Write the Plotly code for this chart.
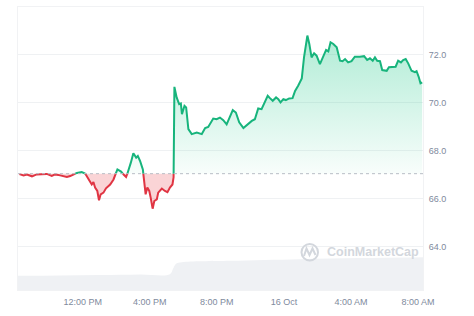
import numpy as np
import pandas as pd
import plotly.graph_objects as go

# ---- data ----
times = [
    "2023-10-15 08:13", "2023-10-15 08:28", "2023-10-15 08:40", "2023-10-15 08:58", "2023-10-15 09:15",
    "2023-10-15 09:33", "2023-10-15 09:51", "2023-10-15 10:09", "2023-10-15 10:21", "2023-10-15 10:39",
    "2023-10-15 11:03", "2023-10-15 11:15", "2023-10-15 11:39", "2023-10-15 11:56", "2023-10-15 12:08",
    "2023-10-15 12:20", "2023-10-15 12:32", "2023-10-15 12:38", "2023-10-15 12:44", "2023-10-15 12:52",
    "2023-10-15 12:58", "2023-10-15 13:04", "2023-10-15 13:14", "2023-10-15 13:23", "2023-10-15 13:38",
    "2023-10-15 13:50", "2023-10-15 14:04", "2023-10-15 14:17", "2023-10-15 14:28", "2023-10-15 14:35",
    "2023-10-15 14:43", "2023-10-15 14:52", "2023-10-15 15:01", "2023-10-15 15:11", "2023-10-15 15:17",
    "2023-10-15 15:25", "2023-10-15 15:35", "2023-10-15 15:40", "2023-10-15 15:45", "2023-10-15 15:51",
    "2023-10-15 15:58", "2023-10-15 16:03", "2023-10-15 16:10", "2023-10-15 16:16", "2023-10-15 16:25",
    "2023-10-15 16:30", "2023-10-15 16:43", "2023-10-15 16:54", "2023-10-15 17:03", "2023-10-15 17:12",
    "2023-10-15 17:21", "2023-10-15 17:25", "2023-10-15 17:28", "2023-10-15 17:36", "2023-10-15 17:45",
    "2023-10-15 17:51", "2023-10-15 17:55", "2023-10-15 18:04", "2023-10-15 18:10", "2023-10-15 18:18",
    "2023-10-15 18:30", "2023-10-15 18:48", "2023-10-15 19:06", "2023-10-15 19:18", "2023-10-15 19:29",
    "2023-10-15 19:47", "2023-10-15 19:59", "2023-10-15 20:11", "2023-10-15 20:23", "2023-10-15 20:35",
    "2023-10-15 20:47", "2023-10-15 20:57", "2023-10-15 21:08", "2023-10-15 21:20", "2023-10-15 21:35",
    "2023-10-15 21:49", "2023-10-15 22:05", "2023-10-15 22:16", "2023-10-15 22:28", "2023-10-15 22:40",
    "2023-10-15 22:52", "2023-10-15 23:02", "2023-10-15 23:10", "2023-10-15 23:20", "2023-10-15 23:32",
    "2023-10-15 23:40", "2023-10-15 23:48", "2023-10-15 23:58", "2023-10-16 00:07", "2023-10-16 00:19",
    "2023-10-16 00:31", "2023-10-16 00:40", "2023-10-16 00:51", "2023-10-16 01:04", "2023-10-16 01:12",
    "2023-10-16 01:24", "2023-10-16 01:31", "2023-10-16 01:39", "2023-10-16 01:48", "2023-10-16 01:57",
    "2023-10-16 02:09", "2023-10-16 02:21", "2023-10-16 02:31", "2023-10-16 02:39", "2023-10-16 02:47",
    "2023-10-16 02:57", "2023-10-16 03:09", "2023-10-16 03:21", "2023-10-16 03:30", "2023-10-16 03:39",
    "2023-10-16 03:50", "2023-10-16 04:02", "2023-10-16 04:14", "2023-10-16 04:32", "2023-10-16 04:47",
    "2023-10-16 04:58", "2023-10-16 05:08", "2023-10-16 05:18", "2023-10-16 05:26", "2023-10-16 05:34",
    "2023-10-16 05:44", "2023-10-16 05:52", "2023-10-16 06:08", "2023-10-16 06:16", "2023-10-16 06:29",
    "2023-10-16 06:40", "2023-10-16 06:49", "2023-10-16 06:59", "2023-10-16 07:07", "2023-10-16 07:16",
    "2023-10-16 07:25", "2023-10-16 07:37", "2023-10-16 07:49", "2023-10-16 07:55", "2023-10-16 08:03",
    "2023-10-16 08:09", "2023-10-16 08:15",
]
prices = [
    67.03, 66.98, 67.01, 66.94, 67.02,
    67.03, 67.04, 66.96, 67.02, 66.98,
    66.91, 66.95, 67.08, 67.12, 67.07,
    66.84, 66.60, 66.70, 66.47, 66.33,
    65.94, 66.19, 66.26, 66.44, 66.60,
    66.81, 67.23, 67.14, 66.98, 66.91,
    67.16, 67.51, 67.90, 67.72, 67.79,
    67.58, 67.23, 66.68, 66.19, 66.47,
    66.33, 66.05, 65.59, 65.91, 65.98,
    66.26, 66.43, 66.33, 66.28, 66.47,
    66.60, 66.90, 70.67, 70.23, 69.95,
    69.98, 69.53, 69.88, 69.81, 68.91,
    68.70, 68.77, 68.70, 68.95, 69.00,
    69.35, 69.32, 69.39, 69.28, 69.11,
    69.46, 69.70, 69.60, 69.19, 68.95,
    69.11, 69.25, 69.32, 69.77, 69.74,
    70.02, 70.30, 70.20, 70.09, 70.23,
    70.16, 70.02, 70.16, 70.12, 70.19,
    70.20, 70.50, 70.72, 71.02, 71.90,
    72.81, 72.46, 71.90, 72.07, 71.97,
    71.62, 71.97, 72.21, 72.15, 72.53,
    72.46, 72.32, 71.76, 71.74, 71.83,
    71.69, 71.74, 71.93, 71.93, 71.95,
    71.79, 71.86, 71.76, 71.90, 71.76,
    71.74, 71.37, 71.34, 71.49, 71.49,
    71.51, 71.76, 71.69, 71.79, 71.83,
    71.65, 71.34, 71.28, 71.32, 71.07,
    70.82, 70.86,
]
reference_price = 67.05

volume_times = [
    "2023-10-15 08:08", "2023-10-15 10:39", "2023-10-15 13:02", "2023-10-15 15:25",
    "2023-10-15 17:12", "2023-10-15 17:23", "2023-10-15 17:34", "2023-10-15 17:55",
    "2023-10-15 20:47", "2023-10-16 00:57", "2023-10-16 04:32", "2023-10-16 08:18",
]
volume_values = [5.0, 5.1, 5.3, 5.5, 5.6, 7.5, 9.3, 9.8, 10.3, 10.9, 11.3, 11.6]

y_tick_values = [64, 66, 68, 70, 72]
y_tick_labels = ["64.0", "66.0", "68.0", "70.0", "72.0"]
x_tick_values = ["2023-10-15 12:00", "2023-10-15 16:00", "2023-10-15 20:00",
                 "2023-10-16 00:00", "2023-10-16 04:00", "2023-10-16 08:00"]
x_tick_labels = ["12:00 PM", "4:00 PM", "8:00 PM", "16 Oct", "4:00 AM", "8:00 AM"]

GREEN = "#17b47c"
RED = "#e03543"

# ---- split the series at crossings of the reference price ----
t = pd.to_datetime(times).astype("int64").to_numpy().astype(float)
p = np.array(prices, dtype=float)
base = reference_price

tt, pp = [t[0]], [p[0]]
for i in range(1, len(p)):
    a, b = p[i - 1] - base, p[i] - base
    if a * b < 0:
        f = a / (a - b)
        tt.append(t[i - 1] + f * (t[i] - t[i - 1]))
        pp.append(base)
    tt.append(t[i])
    pp.append(p[i])
tt = np.array(tt)
pp = np.array(pp)
ts = pd.to_datetime(tt.astype("int64"))

above = np.maximum(pp, base)
below = np.minimum(pp, base)

# line segments colored by side
gx, gy, rx, ry = [], [], [], []
prev_side = None
for i in range(1, len(pp)):
    mid = (pp[i - 1] + pp[i]) / 2
    side = "g" if mid >= base else "r"
    xs, ys = (gx, gy) if side == "g" else (rx, ry)
    if side != prev_side:
        if xs:
            xs.append(None); ys.append(None)
        xs.append(ts[i - 1]); ys.append(pp[i - 1])
    xs.append(ts[i]); ys.append(pp[i])
    prev_side = side

fig = go.Figure()

# volume area (secondary axis)
fig.add_trace(go.Scatter(
    x=pd.to_datetime(volume_times), y=volume_values, yaxis="y2",
    mode="lines", line=dict(width=0, shape="spline"), fill="tozeroy",
    fillcolor="rgba(239,241,244,1)", hoverinfo="skip", showlegend=False))

# green fill
fig.add_trace(go.Scatter(x=ts, y=[base] * len(ts), mode="lines",
                         line=dict(width=0), showlegend=False, hoverinfo="skip"))
fig.add_trace(go.Scatter(
    x=ts, y=above, mode="lines", line=dict(width=0), fill="tonexty",
    fillgradient=dict(type="vertical", start=base, stop=float(p.max()),
                      colorscale=[[0, "rgba(22,199,132,0.03)"], [1, "rgba(22,199,132,0.34)"]]),
    showlegend=False, hoverinfo="skip"))
# red fill
fig.add_trace(go.Scatter(x=ts, y=[base] * len(ts), mode="lines",
                         line=dict(width=0), showlegend=False, hoverinfo="skip"))
fig.add_trace(go.Scatter(
    x=ts, y=below, mode="lines", line=dict(width=0), fill="tonexty",
    fillcolor="rgba(234,57,67,0.22)", showlegend=False, hoverinfo="skip"))

# reference dotted line
fig.add_hline(y=base, line=dict(color="#b8bdc6", width=1, dash="dot"))

# price lines
fig.add_trace(go.Scatter(x=rx, y=ry, mode="lines", line=dict(color=RED, width=2),
                         showlegend=False, connectgaps=False))
fig.add_trace(go.Scatter(x=gx, y=gy, mode="lines", line=dict(color=GREEN, width=2),
                         showlegend=False, connectgaps=False))

# watermark
def px_x(v):
    return (v - 18) / 405.0

def px_y(v):
    return (290 - v) / 283.0

fig.add_shape(type="circle", xref="paper", yref="paper",
              x0=px_x(301.5), x1=px_x(318), y0=px_y(244), y1=px_y(260.5),
              line=dict(color="#d3d7dd", width=2))
fig.add_shape(type="path", xref="paper", yref="paper",
              path=(f"M {px_x(304)} {px_y(256)} L {px_x(306.5)} {px_y(248.5)} "
                    f"L {px_x(309.5)} {px_y(255)} L {px_x(312.5)} {px_y(248.5)} "
                    f"L {px_x(315.5)} {px_y(255)}"),
              line=dict(color="#d3d7dd", width=2))
fig.add_annotation(xref="paper", yref="paper", x=px_x(324.5), y=px_y(252.5),
                   xanchor="left", yanchor="middle", showarrow=False,
                   text="<b>CoinMarketCap</b>",
                   font=dict(family="Liberation Sans, Arial", size=12.5, color="#d3d7dd"))

fig.update_layout(
    width=474, height=316,
    margin=dict(l=18, r=51, t=7, b=26),
    paper_bgcolor="white", plot_bgcolor="white",
    font=dict(family="Liberation Sans, Arial", size=9, color="#808a9d"),
    xaxis=dict(
        range=["2023-10-15 08:08", "2023-10-16 08:18"],
        tickvals=pd.to_datetime(x_tick_values), ticktext=x_tick_labels,
        showgrid=False, zeroline=False, ticks="",
        showline=True, linecolor="#f1f2f4", mirror=True,
        ticklabelstandoff=3,
    ),
    yaxis=dict(
        side="right", range=[62.2, 74.0],
        tickvals=y_tick_values, ticktext=y_tick_labels,
        showgrid=True, gridcolor="#eff1f3", gridwidth=1, zeroline=False, ticks="",
        showline=True, linecolor="#f1f2f4", mirror=True,
        ticklabelstandoff=3,
    ),
    yaxis2=dict(overlaying="y", range=[0, 100], visible=False),
    showlegend=False,
)

fig.write_html("out.html")
